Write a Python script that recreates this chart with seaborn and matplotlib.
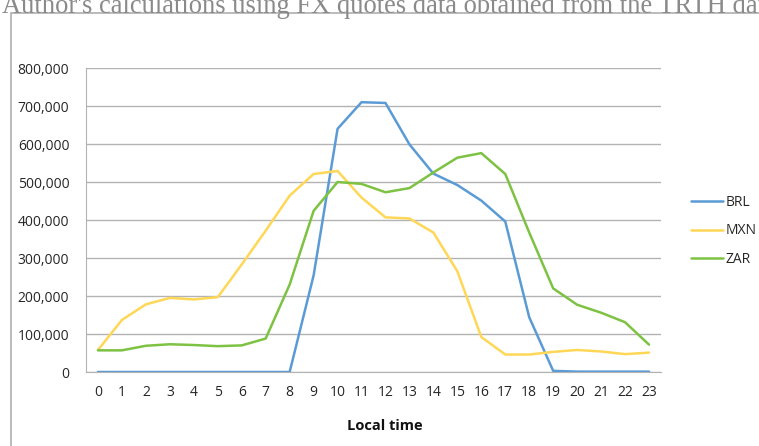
import pandas as pd
import numpy as np
import matplotlib
matplotlib.use("Agg")
import matplotlib.pyplot as plt
import seaborn as sns

# hourly quote counts by local time
hours = list(range(24))
brl = [0, 0, 0, 0, 0, 0, 0, 0, 0, 254000, 640000, 710000, 708000, 599000,
       522000, 492000, 451000, 396000, 144000, 3000, 1000, 1000, 1000, 1000]
mxn = [58000, 137000, 178000, 195000, 191000, 197000, 283000, 372000, 464000,
       521000, 529000, 459000, 407000, 404000, 367000, 265000, 92000, 46000,
       46000, 53000, 58000, 54000, 47000, 51000]
zar = [57000, 57000, 69000, 73000, 71000, 68000, 70000, 88000, 230000, 424000,
       500000, 495000, 473000, 484000, 525000, 564000, 576000, 521000, 367000,
       220000, 177000, 156000, 131000, 72000]
currencies = ["BRL", "MXN", "ZAR"]
colors = ["#5B9BD5", "#FFD757", "#7DC242"]

data = pd.DataFrame({
    "Local time": hours * 3,
    "Quotes": brl + mxn + zar,
    "Currency": [c for c in currencies for _ in hours],
})

sns.set_style("white")
plt.rcParams["font.family"] = ["Open Sans", "DejaVu Sans"]

fig = plt.figure(figsize=(7.59, 4.46), dpi=100)

# caption line cut off at the top of the page
fig.text(2 / 759, 1 - 13 / 446, "Author's calculations using FX quotes data obtained from the TRTH data",
         family="Liberation Serif", fontsize=19.1, color="#8a8a8a", va="baseline", ha="left")

# chart frame
frame = plt.Rectangle((11 / 759, -0.1), 1.0, 1 - 13 / 446 + 0.1, transform=fig.transFigure,
                      fill=False, edgecolor="#a8a8a8", linewidth=1.1)
fig.add_artist(frame)

ax = fig.add_axes([86 / 759, 1 - 372 / 446, 575 / 759, (372 - 68) / 446])
sns.lineplot(data=data, x="Local time", y="Quotes", hue="Currency",
             palette=dict(zip(currencies, colors)), linewidth=1.8, ax=ax)

ax.set_xlim(-0.5, 23.5)
ax.set_ylim(0, 800000)
ax.set_xticks(hours)
ax.set_xticklabels([str(h) for h in hours])
ax.set_yticks(np.arange(0, 800001, 100000))
ax.yaxis.set_major_formatter(matplotlib.ticker.FuncFormatter(lambda v, p: f"{int(v):,}"))
ax.tick_params(axis="both", length=0, labelsize=10, colors="#262626")
ax.tick_params(axis="x", pad=9)
ax.tick_params(axis="y", pad=12)
ax.grid(axis="y", color="#b3b3b3", linewidth=1)
ax.set_axisbelow(True)
for side in ["top", "right"]:
    ax.spines[side].set_visible(False)
ax.spines["left"].set_color("#b3b3b3")
ax.spines["bottom"].set_color("#b3b3b3")
ax.set_ylabel("")
ax.set_xlabel("Local time", fontsize=10.5, fontweight="bold", labelpad=14, color="#111111")
ax.xaxis.label.set_x((385 - 86) / 575)

ax.legend(loc="center left", bbox_to_anchor=(1.03, 0.464), frameon=False,
          fontsize=10, handlelength=2.3, handletextpad=0.2, labelspacing=0.95)

fig.savefig("out.png", dpi=100)
